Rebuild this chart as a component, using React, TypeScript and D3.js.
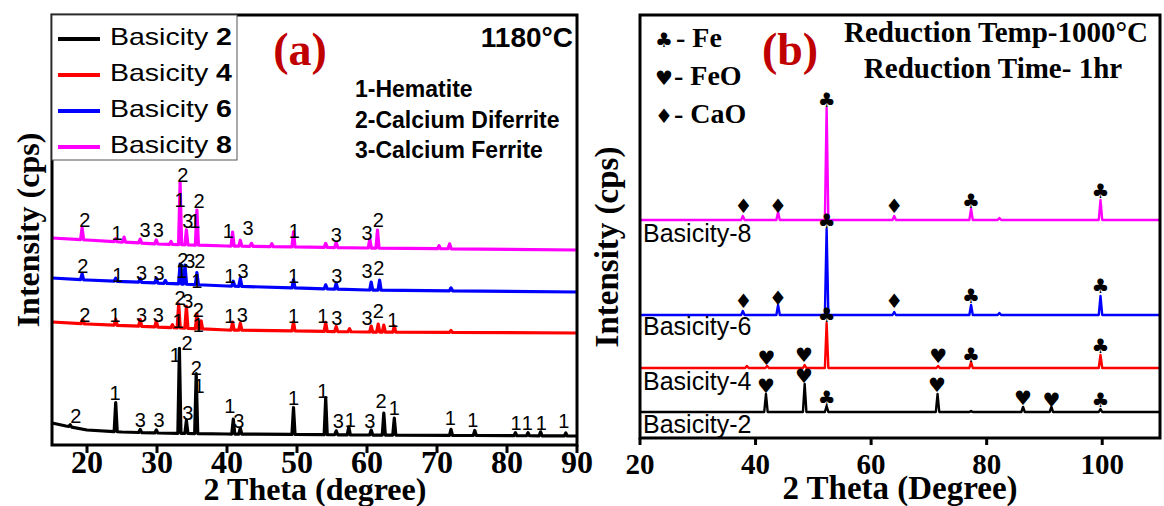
import React from 'react'
import * as d3 from 'd3'

const W = 1164
const H = 506

const SERIF = 'Liberation Serif, Times New Roman, serif'
const SANS = 'Liberation Sans, Arial, sans-serif'
const SYM = 'DejaVu Sans, sans-serif'

// ---------- panel (a): sinter XRD, 1180°C ----------
const aNames = ['2', '4', '6', '8']
const aColors = ['#000000', '#ff0000', '#0000ff', '#ff00ff']
const aTicks = [20, 30, 40, 50, 60, 70, 80, 90]
const aPhases = ['1-Hematite', '2-Calcium Diferrite', '3-Calcium Ferrite']

// baseline knots [2θ, intensity] and peaks [2θ, height above baseline]
const aBase2 = [[15, 22], [17, 19], [20, 15], [25, 13], [30, 12], [40, 11], [60, 10], [90, 9]]
const aPeaks2 = [[17.6, 2], [24.1, 29], [27.6, 3], [29.9, 3], [33.2, 85], [34.2, 13], [35.6, 60], [40.9, 15], [41.9, 6], [49.5, 27], [54.1, 37], [55.6, 4], [57.4, 8], [60.6, 5], [62.4, 22], [63.9, 17], [72, 6], [75.4, 5], [81.2, 3], [83, 3], [84.8, 4], [88.4, 3]]
const aBase4 = [[15, 123], [20, 121], [30, 118], [40, 115], [60, 113], [90, 112]]
const aPeaks4 = [[19.4, 4], [24.1, 6], [27.6, 7], [29.9, 6], [32.2, 3], [33.1, 24], [34.2, 22], [35.7, 15], [36.3, 8], [40.8, 8], [41.9, 7], [49.5, 9], [54.1, 9], [55.6, 5], [57.5, 3], [60.6, 6], [61.6, 8], [62.4, 7], [63.9, 6], [72, 2]]
const aBase6 = [[15, 167], [20, 165], [30, 162], [40, 159], [60, 155], [90, 153]]
const aPeaks6 = [[19.3, 6], [24.1, 3], [27.6, 4], [29.9, 5], [31.2, 3], [33.3, 20], [34.0, 19], [35.7, 12], [40.9, 5], [41.9, 8], [49.5, 8], [54.1, 4], [55.6, 6], [60.6, 8], [61.8, 10], [72, 3]]
const aBase8 = [[15, 207], [20, 205], [30, 201], [40, 199], [60, 197], [90, 195]]
const aPeaks8 = [[19.3, 12], [24.1, 3], [25.3, 5], [27.6, 4], [29.9, 4], [32, 3], [33.3, 62], [34.2, 15], [35.7, 35], [40.8, 14], [41.9, 6], [43.5, 3], [46.4, 3], [49.5, 15], [54.1, 4], [55.6, 5], [60.4, 9], [61.5, 18], [70.3, 3], [71.8, 5]]

// phase labels [text, 2θ, intensity of text baseline]
const aLab2 = [['2', 18.4, 22], ['1', 24.0, 45], ['3', 27.6, 18], ['3', 30.3, 18], ['1', 32.6, 83], ['2', 34.3, 95], ['3', 34.4, 25], ['2', 35.6, 70], ['1', 36.0, 52], ['1', 40.4, 32], ['3', 41.7, 17], ['1', 49.5, 40], ['1', 53.7, 47], ['3', 55.9, 17], ['1', 57.6, 18], ['3', 60.4, 17], ['2', 62.0, 37], ['1', 63.9, 30], ['1', 71.9, 20], ['1', 75.1, 18], ['1', 81.3, 15], ['1', 82.9, 15], ['1', 84.9, 15], ['1', 88.1, 17]]
const aLab4 = [['2', 19.7, 123], ['1', 24.0, 123], ['3', 27.8, 123], ['3', 30.2, 123], ['1', 33.0, 117], ['2', 33.3, 140], ['3', 34.4, 137], ['2', 35.9, 128], ['1', 35.9, 113], ['1', 40.4, 122], ['3', 42.2, 123], ['1', 49.5, 122], ['1', 53.7, 122], ['3', 55.7, 120], ['3', 60.0, 120], ['2', 61.6, 127], ['1', 63.7, 118]]
const aLab6 = [['2', 19.4, 172], ['1', 24.4, 163], ['3', 27.8, 165], ['3', 30.3, 165], ['1', 33.5, 167], ['2', 33.7, 178], ['3', 34.7, 177], ['2', 36.1, 177], ['1', 35.7, 157], ['1', 40.4, 162], ['3', 42.3, 167], ['1', 49.5, 162], ['3', 55.7, 162], ['3', 60.0, 167], ['2', 61.7, 170]]
const aLab8 = [['2', 19.7, 218], ['1', 24.3, 205], ['3', 28.3, 208], ['3', 30.2, 208], ['1', 33.3, 238], ['2', 33.7, 263], ['3', 34.4, 217], ['1', 35.4, 217], ['2', 36.0, 237], ['1', 40.2, 207], ['3', 43.0, 210], ['1', 49.6, 207], ['3', 55.6, 203], ['3', 60.0, 205], ['2', 61.6, 218]]

// ---------- panel (b): reduced at 1000°C, 1 hr ----------
const bNames = ['Basicity-2', 'Basicity-4', 'Basicity-6', 'Basicity-8']
const bTicks = [20, 40, 60, 80, 100]
const bBase2 = [[20, 26], [110, 26]]
const bPeaks2 = [[41.8, 18], [48.5, 28], [52.3, 6], [71.5, 18], [77.3, 1], [86.3, 5], [91.2, 5], [99.7, 3]]
const bBase4 = [[20, 70], [110, 70]]
const bPeaks4 = [[38.5, 2], [42, 2], [48.5, 3], [52.3, 45], [71.6, 2], [77.3, 6], [99.7, 13]]
const bBase6 = [[20, 123], [110, 123]]
const bPeaks6 = [[37.8, 4], [43.9, 10], [52.3, 86], [64, 3], [77.3, 10], [82.2, 2], [99.7, 19]]
const bBase8 = [[20, 218], [110, 218]]
const bPeaks8 = [[37.8, 4], [43.9, 8], [52.3, 112], [64, 4], [77.3, 11], [82.2, 2], [99.7, 20]]
const bNameY = [5, 48, 103, 196]

const bSym2 = [['♥', 41.8, 45], ['♥', 48.4, 55], ['♣', 52.3, 33], ['♥', 71.4, 46], ['♥', 86.3, 33], ['♥', 91.2, 31], ['♣', 99.7, 31]]
const bSym4 = [['♥', 41.9, 73], ['♥', 48.4, 76], ['♣', 52.3, 116], ['♥', 71.6, 75], ['♣', 77.3, 76], ['♣', 99.7, 85]]
const bSym6 = [['♦', 37.9, 130], ['♦', 43.9, 133], ['♣', 52.3, 210], ['♦', 64, 130], ['♣', 77.3, 135], ['♣', 99.7, 145]]
const bSym8 = [['♦', 37.9, 225], ['♦', 43.9, 225], ['♣', 52.3, 331], ['♦', 64, 225], ['♣', 77.3, 230], ['♣', 99.7, 240]]
const bKey = [['♣', ' - Fe'], ['♥', '- FeO'], ['♦', '- CaO']]

const aSeries = [
  { base: aBase2, peaks: aPeaks2, labels: aLab2 },
  { base: aBase4, peaks: aPeaks4, labels: aLab4 },
  { base: aBase6, peaks: aPeaks6, labels: aLab6 },
  { base: aBase8, peaks: aPeaks8, labels: aLab8 },
]
const bSeries = [
  { base: bBase2, peaks: bPeaks2, labels: bSym2 },
  { base: bBase4, peaks: bPeaks4, labels: bSym4 },
  { base: bBase6, peaks: bPeaks6, labels: bSym6 },
  { base: bBase8, peaks: bPeaks8, labels: bSym8 },
]

// baseline knots + a triangle for every listed peak
function tracePoints(base: number[][], peaks: number[][], w: number) {
  const bl = d3.scaleLinear().domain(base.map(d => d[0])).range(base.map(d => d[1]))
  const pts: [number, number][] = base
    .filter(([x]) => !peaks.some(([p]) => Math.abs(x - p) <= w))
    .map(d => [d[0], d[1]])
  peaks.forEach(([p, h]) => {
    pts.push([p - w, bl(p - w)], [p, bl(p) + h], [p + w, bl(p + w)])
  })
  pts.sort((a, b) => a[0] - b[0])
  return pts
}

const App = () => {
  // panel (a) frame
  const ax = d3.scaleLinear().domain([15, 90]).range([52, 577])
  const ay = d3.scaleLinear().domain([0, 430]).range([445, 15])
  // panel (b) frame
  const bx = d3.scaleLinear().domain([20, 110]).range([640, 1160])
  const by = d3.scaleLinear().domain([0, 423]).range([438, 15])

  const aLine = d3.line<[number, number]>().x(d => ax(d[0])).y(d => ay(d[1]))
  const bLine = d3.line<[number, number]>().x(d => bx(d[0])).y(d => by(d[1]))

  return (
    <svg width={W} height={H} style={{ position: 'absolute', left: 0, top: 0, background: '#fff' }}>
      <rect width={W} height={H} fill="#fff" />

      {/* ===== panel (a) ===== */}
      {aSeries.map((s, i) => (
        <path key={'at' + i} d={aLine(tracePoints(s.base, s.peaks, 0.22)) || ''} fill="none"
          stroke={aColors[i]} strokeWidth={3.2} strokeLinejoin="round" />
      ))}
      {aSeries.map((s, i) =>
        s.labels.map((l, j) => (
          <text key={'al' + i + '-' + j} x={ax(l[1] as number)} y={ay(l[2] as number)} textAnchor="middle"
            fontFamily={SANS} fontSize={20} fill="#000">{l[0]}</text>
        )))}

      <rect x={ax(15)} y={ay(430)} width={ax(90) - ax(15)} height={ay(0) - ay(430)} fill="none" stroke="#000" strokeWidth={3} />
      {aTicks.map(t => (
        <g key={'ax' + t}>
          <line x1={ax(t)} x2={ax(t)} y1={ay(0)} y2={ay(0) + 8} stroke="#000" strokeWidth={3} />
          <text x={ax(t)} y={473} textAnchor="middle" fontFamily={SERIF} fontWeight="bold" fontSize={32}>{t}</text>
        </g>
      ))}
      <text x={315} y={500} textAnchor="middle" fontFamily={SERIF} fontWeight="bold" fontSize={32}>2 Theta (degree)</text>
      <text transform="translate(39,230) rotate(-90)" textAnchor="middle" fontFamily={SERIF} fontWeight="bold" fontSize={32}>Intensity (cps)</text>

      {/* legend (a) */}
      <rect x={ax(15)} y={ay(430)} width={185} height={145} fill="#fff" stroke="#555" strokeWidth={1} />
      {aNames.map((n, i) => (
        <g key={'lg' + i}>
          <line x1={58} x2={100} y1={39 + i * 36} y2={39 + i * 36} stroke={aColors[i]} strokeWidth={4} />
          <text x={110} y={45 + i * 36} fontFamily={SANS} fontSize={24} textLength={122} lengthAdjust="spacingAndGlyphs">
            Basicity <tspan fontWeight="bold">{n}</tspan>
          </text>
        </g>
      ))}
      <text x={300} y={65} textAnchor="middle" fontFamily={SERIF} fontWeight="bold" fontSize={46} fill="#c00000">(a)</text>
      <text x={573} y={47} textAnchor="end" fontFamily={SANS} fontWeight="bold" fontSize={28}>1180°C</text>
      {aPhases.map((p, i) => (
        <text key={'ph' + i} x={355} y={97 + i * 30.5} fontFamily={SANS} fontWeight="bold" fontSize={23}>{p}</text>
      ))}

      {/* ===== panel (b) ===== */}
      {bSeries.map((s, i) => (
        <path key={'bt' + i} d={bLine(tracePoints(s.base, s.peaks, 0.3)) || ''} fill="none"
          stroke={aColors[i]} strokeWidth={2.4} strokeLinejoin="round" />
      ))}
      {bSeries.map((s, i) =>
        s.labels.map((l, j) => (
          <text key={'bl' + i + '-' + j} x={bx(l[1] as number)} y={by(l[2] as number)} textAnchor="middle"
            fontFamily={SYM} fontSize={20} fill="#000">{l[0]}</text>
        )))}
      {bNames.map((n, i) => (
        <text key={'bn' + i} x={bx(20) + 3} y={by(bNameY[i])} fontFamily={SANS} fontSize={25}>{n}</text>
      ))}

      <rect x={bx(20)} y={by(423)} width={bx(110) - bx(20)} height={by(0) - by(423)} fill="none" stroke="#000" strokeWidth={3} />
      {bTicks.map(t => (
        <g key={'bx' + t}>
          <line x1={bx(t)} x2={bx(t)} y1={by(0)} y2={by(0) + 7} stroke="#000" strokeWidth={3} />
          <text x={bx(t)} y={474} textAnchor="middle" fontFamily={SERIF} fontWeight="bold" fontSize={29}>{t}</text>
        </g>
      ))}
      <text x={900} y={499} textAnchor="middle" fontFamily={SERIF} fontWeight="bold" fontSize={33}>2 Theta (Degree)</text>
      <text transform="translate(618,247) rotate(-90)" textAnchor="middle" fontFamily={SERIF} fontWeight="bold" fontSize={33}>Intensity (cps)</text>

      {bKey.map((k, i) => (
        <g key={'bk' + i}>
          <text x={664} y={47 + i * 38} textAnchor="middle" fontFamily={SYM} fontSize={20}>{k[0]}</text>
          <text x={i === 0 ? 676 : 674} y={47 + i * 38} fontFamily={SERIF} fontWeight="bold" fontSize={28}>{k[1]}</text>
        </g>
      ))}
      <text x={790} y={65} textAnchor="middle" fontFamily={SERIF} fontWeight="bold" fontSize={46} fill="#c00000">(b)</text>
      <text x={996} y={42} textAnchor="middle" fontFamily={SERIF} fontWeight="bold" fontSize={29}>Reduction Temp-1000°C</text>
      <text x={993} y={78} textAnchor="middle" fontFamily={SERIF} fontWeight="bold" fontSize={29}>Reduction Time- 1hr</text>
    </svg>
  )
}

export default App
